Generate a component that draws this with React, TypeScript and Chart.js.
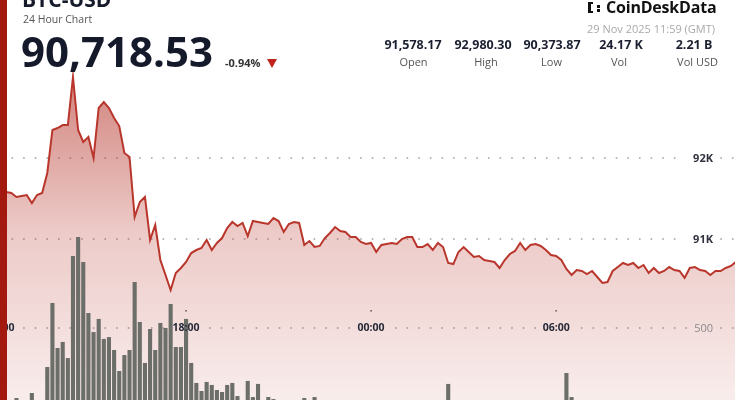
import React, { useEffect, useRef } from 'react';
import { Chart, registerables } from 'chart.js';

Chart.register(...registerables);

// ---- data (10-minute steps, minutes counted from 12:00 on 28 Nov) ----
const STEP_MIN = 10;
const PRICE = [
  91578.17, 91580, 91568, 91519, 91531, 91543, 91444, 91543, 91568, 91815,
  92346, 92370, 92407, 92407, 93000, 92346, 92198, 92259, 92000, 92617,
  92691, 92617, 92494, 92395, 92062, 92012, 91272, 91457, 91519, 90988,
  91173, 90741, 90556, 90370, 90580, 90642, 90716, 90827, 90864, 90889,
  90988, 90864, 90951, 91012, 91136, 91210, 91160, 91198, 91037, 91222,
  91210, 91198, 91185, 91259, 91222, 91086, 91185, 91210, 91198, 90926,
  90975, 90901, 90914, 91012, 91074, 91148, 91099, 91086, 91025, 91025,
  90963, 90938, 90951, 90840, 90926, 90938, 90951, 90938, 91000, 91025,
  91025, 90901, 90901, 90938, 90864, 90951, 90901, 90704, 90691, 90840,
  90901, 90840, 90778, 90790, 90741, 90728, 90716, 90642, 90741, 90815,
  90852, 90951, 90864, 90926, 90938, 90914, 90864, 90802, 90790, 90741,
  90630, 90556, 90617, 90605, 90568, 90605, 90531, 90457, 90469, 90605,
  90654, 90704, 90679, 90704, 90642, 90679, 90580, 90642, 90580, 90605,
  90654, 90617, 90605, 90519, 90642, 90654, 90617, 90605, 90556, 90605,
  90605, 90642, 90667, 90718.53,
];
const VOLUME = [
  30, 35, 25, 83, 40, 55, 113, 60, 65, 268,
  649, 381, 417, 321, 929, 1042, 893, 589, 476, 554,
  435, 446, 369, 244, 339, 369, 774, 536, 292, 494,
  369, 530, 500, 643, 387, 387, 554, 292, 173, 125,
  179, 161, 131, 119, 161, 173, 95, 60, 185, 89,
  167, 55, 89, 77, 50, 60, 45, 40, 50, 83,
  45, 89, 40, 35, 50, 45, 30, 40, 55, 35,
  40, 30, 45, 60, 35, 30, 25, 40, 35, 30,
  45, 40, 35, 50, 30, 45, 55, 167, 60, 40,
  35, 30, 45, 40, 50, 35, 30, 55, 40, 35,
  45, 40, 30, 35, 30, 25, 40, 45, 50, 60,
  232, 89, 50, 40, 35, 45, 40, 55, 50, 35,
  40, 30, 35, 30, 25, 35, 40, 30, 35, 25,
  30, 35, 30, 45, 35, 30, 25, 30, 35, 30,
  25, 30, 35, 40,
];
const PRICE_TICKS = [92000, 91000];
const PRICE_TICK_LABELS = ['92K', '91K'];
const VOLUME_TICKS = [500];
const VOLUME_TICK_LABELS = ['500'];
const TIME_TICKS = [0, 360, 720, 1080];
const TIME_TICK_LABELS = ['12:00', '18:00', '00:00', '06:00'];

const STATS = [
  { value: '91,578.17', label: 'Open' },
  { value: '92,980.30', label: 'High' },
  { value: '90,373.87', label: 'Low' },
  { value: '24.17 K', label: 'Vol' },
  { value: '2.21 B', label: 'Vol USD' },
];

// ---- layout ----
const W = 735;
const CANVAS_H = 440;
const FONT = "'Open Sans', 'Noto Sans', sans-serif";
const DOT_START = 12.3;
const DOT_GAP = 11.62;
const LABEL_RIGHT = 713;

function rowsFor(chart: any) {
  const { ctx, scales } = chart;
  const rows: any[] = [];
  PRICE_TICKS.forEach((v, i) => {
    rows.push({
      y: scales.yp.getPixelForValue(v),
      labels: [{ text: PRICE_TICK_LABELS[i], x: LABEL_RIGHT, align: 'right', font: `bold 11px ${FONT}`, color: '#30333d' }],
    });
  });
  VOLUME_TICKS.forEach((v, i) => {
    const labels: any[] = TIME_TICKS.map((t, j) => ({
      text: TIME_TICK_LABELS[j],
      x: scales.x.getPixelForValue(t),
      align: 'center',
      font: `bold 10.5px ${FONT}`,
      color: '#262a38',
      tick: true,
    }));
    labels.push({ text: VOLUME_TICK_LABELS[i], x: LABEL_RIGHT, align: 'right', font: `11px ${FONT}`, color: '#8a8a8a' });
    rows.push({ y: scales.yv.getPixelForValue(v), labels });
  });
  rows.forEach((r) => {
    r.skips = r.labels.map((l: any) => {
      ctx.save();
      ctx.font = l.font;
      const w = ctx.measureText(l.text).width;
      ctx.restore();
      const left = l.align === 'right' ? l.x - w : l.x - w / 2;
      return [left - 7, left + w + 7];
    });
  });
  return rows;
}

const overlayPlugin = {
  id: 'cdOverlay',
  beforeDatasetsDraw(chart: any) {
    const { ctx } = chart;
    const rows = rowsFor(chart);
    ctx.save();
    ctx.fillStyle = '#a6a6a6';
    for (const r of rows) {
      for (let x = DOT_START; x < chart.width; x += DOT_GAP) {
        if (r.skips.some(([a, b]: number[]) => x > a && x < b)) continue;
        ctx.fillRect(x - 0.8, r.y - 0.8, 1.6, 1.6);
      }
    }
    ctx.restore();
  },
  afterDatasetsDraw(chart: any) {
    const { ctx } = chart;
    const rows = rowsFor(chart);
    ctx.save();
    ctx.textBaseline = 'middle';
    for (const r of rows) {
      for (const l of r.labels) {
        ctx.font = l.font;
        ctx.fillStyle = l.color;
        ctx.textAlign = l.align;
        ctx.fillText(l.text, l.x, r.y + 0.5);
        if (l.tick) {
          ctx.fillStyle = '#555';
          ctx.fillRect(l.x - 0.7, r.y - 18, 1.4, 1.6);
        }
      }
    }
    ctx.restore();
  },
};

function ChartCanvas() {
  const ref = useRef<HTMLCanvasElement | null>(null);
  useEffect(() => {
    if (!ref.current) return;
    const times = PRICE.map((_, i) => i * STEP_MIN);
    const chart = new Chart(ref.current, {
      type: 'line',
      data: {
        datasets: [
          {
            type: 'line',
            data: PRICE.map((p, i) => ({ x: times[i], y: p })),
            yAxisID: 'yp',
            borderColor: '#b9362c',
            borderWidth: 2,
            pointRadius: 0,
            tension: 0,
            fill: 'start',
            order: 2,
            backgroundColor: (c: any) => {
              const area = c.chart.chartArea;
              if (!area) return 'rgba(185,60,50,0.3)';
              const g = c.chart.ctx.createLinearGradient(0, 70, 0, 430);
              g.addColorStop(0, 'rgba(182,52,42,0.62)');
              g.addColorStop(0.45, 'rgba(182,52,42,0.26)');
              g.addColorStop(1, 'rgba(182,52,42,0.06)');
              return g;
            },
          } as any,
          {
            type: 'bar',
            data: VOLUME.map((v, i) => ({ x: times[i], y: v })),
            yAxisID: 'yv',
            backgroundColor: '#6c6e69',
            borderWidth: 0,
            barPercentage: 0.8,
            categoryPercentage: 1,
            order: 1,
          } as any,
        ],
      },
      options: {
        responsive: false,
        animation: false,
        events: [],
        layout: { padding: 0 },
        plugins: { legend: { display: false }, tooltip: { enabled: false } },
        scales: {
          x: { type: 'linear', min: -2, max: 1428, offset: false, display: false, grid: { offset: false } },
          yp: { type: 'linear', min: 88518.5, max: 93950.6, display: false },
          yv: { type: 'linear', min: -166.7, max: 2452.4, display: false },
        },
      } as any,
      plugins: [overlayPlugin],
    });
    return () => chart.destroy();
  }, []);
  return <canvas ref={ref} width={W} height={CANVAS_H} style={{ position: 'absolute', left: 0, top: 0, width: W, height: CANVAS_H }} />;
}

const abs = (o: any): React.CSSProperties => ({ position: 'absolute', lineHeight: 1, whiteSpace: 'nowrap', fontFamily: FONT, ...o });

export default function App() {
  const statCenters = [413, 483, 552, 621, 694];
  const labelCenters = [413.5, 486, 551.5, 619, 697.5];
  return (
    <div style={{ position: 'fixed', left: 0, top: 0, width: W, height: 400, overflow: 'hidden', background: '#fff' }}>
      <ChartCanvas />
      <div style={abs({ left: 0, top: 0, width: 7, height: 400, background: '#a3180f' })} />
      <div style={abs({ left: 22, top: -10.6, fontSize: 21, fontWeight: 700, color: '#161b2c' })}>BTC-USD</div>
      <div style={abs({ left: 23, top: 13.8, fontSize: 10.5, color: '#555' })}>24 Hour Chart</div>
      <div style={abs({ left: 21, top: 29.7, fontSize: 42, fontWeight: 700, color: '#141a2a' })}>90,718.53</div>
      <div style={abs({ left: 225, top: 57.3, fontSize: 11, fontWeight: 700, color: '#333' })}>-0.94%</div>
      <div style={abs({ left: 267, top: 59, width: 0, height: 0, borderLeft: '5.5px solid transparent', borderRight: '5.5px solid transparent', borderTop: '9px solid #c0231b' })} />
      {/* logo */}
      <div style={abs({ left: 588, top: 2, width: 5, height: 11, borderLeft: '3px solid #111', borderTop: '2.5px solid #111', borderBottom: '2.5px solid #111', boxSizing: 'border-box' })} />
      <div style={abs({ left: 597, top: 4.5, width: 3, height: 3, background: '#111' })} />
      <div style={abs({ left: 597, top: 9, width: 3, height: 3, background: '#111' })} />
      <div style={abs({ left: 606, top: -0.9, fontSize: 16, fontWeight: 700, color: '#111', letterSpacing: -0.2 })}>CoinDeskData</div>
      <div style={abs({ left: 587, top: 23.3, fontSize: 11, color: '#a9a9a9' })}>29 Nov 2025 11:59 (GMT)</div>
      {STATS.map((s, i) => (
        <React.Fragment key={s.label}>
          <div style={abs({ left: statCenters[i], top: 39.4, fontSize: 12.5, fontWeight: 700, color: '#1c2030', transform: 'translateX(-50%)' })}>{s.value}</div>
          <div style={abs({ left: labelCenters[i], top: 56.4, fontSize: 11, color: '#555', transform: 'translateX(-50%)' })}>{s.label}</div>
        </React.Fragment>
      ))}
    </div>
  );
}
